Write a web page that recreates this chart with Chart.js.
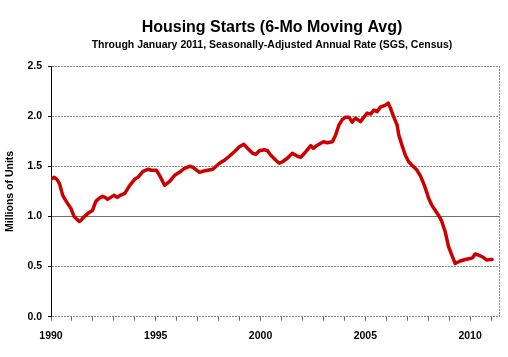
<!DOCTYPE html>
<html>
<head>
<meta charset="utf-8">
<script src="https://cdn.jsdelivr.net/npm/chart.js@4.4.1/dist/chart.umd.min.js"></script>
<style>
html,body{margin:0;padding:0;background:#ffffff;}
#wrap{width:508px;height:357px;position:relative;}
</style>
</head>
<body>
<div id="wrap"><canvas id="c" width="508" height="357"></canvas></div>
<script>
// ---- Data ----
const years = [
  1990.00,1990.16,1990.28,1990.40,1990.56,1990.70,1990.79,1990.95,1991.10,1991.25,
  1991.35,1991.43,1991.55,1991.66,1991.82,1991.98,1992.14,1992.30,1992.46,1992.58,
  1992.70,1992.85,1993.00,1993.17,1993.30,1993.52,1993.64,1993.76,1993.99,1994.15,
  1994.39,1994.63,1994.79,1995.03,1995.18,1995.42,1995.66,1995.90,1996.13,1996.37,
  1996.61,1996.77,1996.90,1997.09,1997.24,1997.48,1997.72,1998.04,1998.27,1998.51,
  1998.75,1998.99,1999.20,1999.38,1999.62,1999.78,1999.94,2000.18,2000.33,2000.49,
  2000.73,2000.89,2001.05,2001.28,2001.52,2001.76,2001.92,2002.16,2002.40,2002.52,
  2002.71,2003.00,2003.19,2003.43,2003.58,2003.74,2003.90,2004.06,2004.22,2004.37,
  2004.53,2004.77,2004.93,2005.09,2005.25,2005.41,2005.56,2005.72,2005.96,2006.09,
  2006.20,2006.36,2006.52,2006.60,2006.75,2006.91,2007.07,2007.23,2007.47,2007.63,
  2007.80,2007.95,2008.02,2008.18,2008.34,2008.50,2008.65,2008.81,2008.97,2009.13,
  2009.29,2009.53,2009.77,2010.00,2010.13,2010.24,2010.40,2010.64,2010.80,2010.96,
  2011.05
];
const starts = [
  1.37,1.39,1.37,1.33,1.21,1.16,1.13,1.08,1.00,0.97,
  0.95,0.96,0.99,1.01,1.04,1.06,1.15,1.18,1.20,1.19,
  1.17,1.19,1.21,1.19,1.21,1.23,1.27,1.31,1.37,1.39,
  1.45,1.47,1.46,1.46,1.41,1.31,1.35,1.41,1.44,1.48,
  1.50,1.49,1.47,1.44,1.45,1.46,1.47,1.53,1.56,1.60,
  1.645,1.695,1.72,1.68,1.63,1.62,1.655,1.665,1.655,1.61,
  1.56,1.53,1.545,1.58,1.63,1.60,1.59,1.645,1.705,1.68,
  1.71,1.745,1.735,1.745,1.81,1.91,1.965,1.99,1.99,1.94,
  1.98,1.945,1.99,2.03,2.02,2.06,2.045,2.09,2.11,2.13,
  2.08,1.99,1.91,1.81,1.71,1.61,1.545,1.51,1.46,1.405,
  1.32,1.23,1.18,1.11,1.06,1.01,0.95,0.85,0.70,0.615,
  0.53,0.555,0.57,0.58,0.59,0.625,0.615,0.59,0.565,0.57,
  0.57
];
const xTickYears = [1990,1991,1992,1993,1994,1995,1996,1997,1998,1999,2000,
                    2001,2002,2003,2004,2005,2006,2007,2008,2009,2010,2011];
const xLabelYears = [1990,1995,2000,2005,2010];
const yTickValues = [0,0.5,1.0,1.5,2.0,2.5];
const titleText = 'Housing Starts (6-Mo Moving Avg)';
const subtitleText = 'Through January 2011, Seasonally-Adjusted Annual Rate (SGS, Census)';
const yAxisTitle = 'Millions of Units';

const X_MIN = 1990, X_MAX = 2011.38;
const FONT = '"Liberation Sans", Arial, sans-serif';

const points = years.map((x, i) => ({x: x, y: starts[i]}));

const titlePlugin = {
  id: 'titles',
  afterDraw(chart) {
    const ctx = chart.ctx;
    ctx.save();
    ctx.fillStyle = '#000';
    ctx.textAlign = 'center';
    ctx.textBaseline = 'alphabetic';
    ctx.font = 'bold 16px ' + FONT;
    ctx.fillText(titleText, 272, 32);
    ctx.font = 'bold 10.5px ' + FONT;
    ctx.fillText(subtitleText, 272, 48);
    ctx.restore();
  }
};

new Chart(document.getElementById('c'), {
  type: 'line',
  data: {
    datasets: [{
      data: points,
      borderColor: '#cc0000',
      borderWidth: 3.5,
      pointRadius: 0,
      tension: 0,
      fill: false,
      borderJoinStyle: 'round',
      borderCapStyle: 'round'
    }]
  },
  options: {
    responsive: false,
    devicePixelRatio: 1,
    animation: false,
    layout: {padding: {top: 66, right: 7.3, bottom: 0, left: 0}},
    plugins: {legend: {display: false}, title: {display: false}, tooltip: {enabled: false}},
    scales: {
      x: {
        type: 'linear',
        min: X_MIN,
        max: X_MAX,
        afterBuildTicks(scale) {
          scale.ticks = xTickYears.map(v => ({value: v})).concat([{value: X_MAX}]);
        },
        afterFit(scale) { scale.height = 40.3; },
        ticks: {
          autoSkip: false,
          maxRotation: 0,
          padding: 9,
          color: '#000',
          font: {family: FONT, size: 10.5, weight: 'bold'},
          callback: (v) => xLabelYears.includes(v) ? String(v) : ''
        },
        grid: {
          drawOnChartArea: true,
          drawTicks: true,
          tickLength: 4,
          color: (c) => (c.tick && c.tick.value === X_MAX) ? '#8c8c8c' : 'rgba(0,0,0,0)',
          tickColor: (c) => (c.tick && c.tick.value === X_MAX) ? 'rgba(0,0,0,0)' : '#666',
          lineWidth: 1
        },
        border: {display: false, dash: [2, 1]}
      },
      y: {
        type: 'linear',
        min: 0,
        max: 2.5,
        afterBuildTicks(scale) {
          scale.ticks = yTickValues.map(v => ({value: v}));
        },
        afterFit(scale) { scale.width = 51; },
        ticks: {
          padding: 6,
          color: '#000',
          font: {family: FONT, size: 10.5, weight: 'bold'},
          callback: (v) => Number(v).toFixed(1)
        },
        title: {
          display: true,
          text: yAxisTitle,
          color: '#000',
          font: {family: FONT, size: 10.5, weight: 'bold'},
          padding: {top: 3.5, bottom: 0}
        },
        grid: {
          drawTicks: true,
          tickLength: 3,
          tickColor: '#000',
          color: (c) => (c.tick && c.tick.value === 1) ? '#707070' : '#8c8c8c',
          lineWidth: 1
        },
        border: {
          display: true,
          color: '#000',
          width: 1,
          dash: (c) => (c.tick && c.tick.value === 1) ? [] : [2, 1]
        }
      }
    }
  },
  plugins: [titlePlugin]
});
</script>
</body>
</html>
